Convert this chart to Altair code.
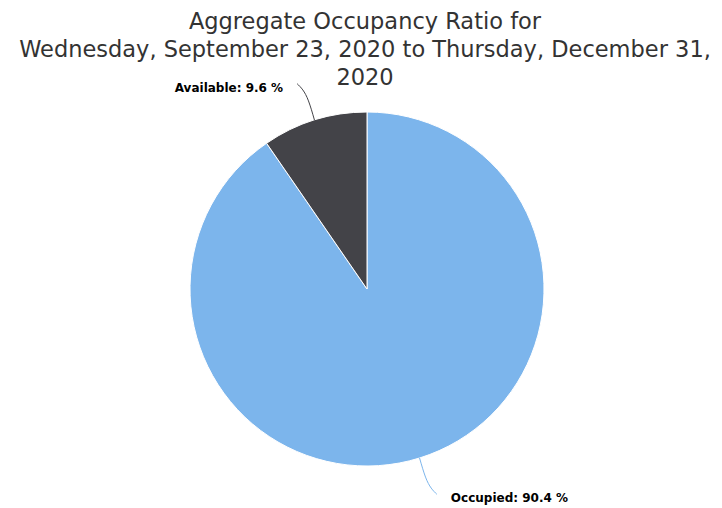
import altair as alt
import pandas as pd
import numpy as np

# ---- data ----
categories = ["Occupied", "Available"]
percent = [90.4, 9.6]
colors = ["#7cb5ec", "#434348"]
title_lines = [
    "Aggregate Occupancy Ratio for",
    "Wednesday, September 23, 2020 to Thursday, December 31,",
    "2020",
]

# ---- geometry (view pixels) ----
CX, CY, R = 359, 181, 177

df = pd.DataFrame({"category": categories, "value": percent, "order": list(range(len(categories)))})
df["label"] = [f"{c}: {v} %" for c, v in zip(categories, percent)]

frac = np.array(percent) / sum(percent)
mid = (np.cumsum(frac) - frac / 2) * 2 * np.pi
side = np.sign(np.sin(mid))

conn_rows = []
for i, c in enumerate(categories):
    s, co = np.sin(mid[i]), np.cos(mid[i])
    pts = [
        (CX + R * s, CY - R * co),
        (CX + (R + 20) * s, CY - (R + 20) * co),
        (CX + (R + 38) * s + side[i] * 6, CY - (R + 38) * co),
    ]
    for k, (px, py) in enumerate(pts):
        conn_rows.append({"category": c, "step": k, "px": px, "py": py})
conn = pd.DataFrame(conn_rows)

lab = pd.DataFrame({
    "category": categories,
    "label": df["label"],
    "px": [CX + (R + 38) * np.sin(m) + sd * 20 for m, sd in zip(mid, side)],
    "py": [CY - (R + 38) * np.cos(m) + 4 for m in mid],
    "side": side,
})

color_scale = alt.Scale(domain=categories, range=colors)

pie = alt.Chart(df).mark_arc(outerRadius=R, stroke="#ffffff", strokeWidth=1).encode(
    theta=alt.Theta("value:Q", stack=True),
    color=alt.Color("category:N", scale=color_scale, legend=None),
    order=alt.Order("order:Q"),
    x=alt.value(CX),
    y=alt.value(CY),
)

lines = alt.Chart(conn).mark_line(strokeWidth=1, interpolate="monotone").encode(
    x=alt.X("px:Q", scale=None, axis=None),
    y=alt.Y("py:Q", scale=None, axis=None),
    color=alt.Color("category:N", scale=color_scale, legend=None),
    detail="category:N",
    order="step:Q",
)

left_labels = alt.Chart(lab).transform_filter("datum.side < 0").mark_text(
    align="right", baseline="middle", font="DejaVu Sans", fontSize=12, fontWeight="bold", color="#000000"
).encode(
    x=alt.X("px:Q", scale=None, axis=None),
    y=alt.Y("py:Q", scale=None, axis=None),
    text="label:N",
)

right_labels = alt.Chart(lab).transform_filter("datum.side > 0").mark_text(
    align="left", baseline="middle", font="DejaVu Sans", fontSize=12, fontWeight="bold", color="#000000"
).encode(
    x=alt.X("px:Q", scale=None, axis=None),
    y=alt.Y("py:Q", scale=None, axis=None),
    text="label:N",
)

chart = alt.layer(pie, lines, left_labels, right_labels).properties(
    width=706,
    height=398,
    padding={"left": 0, "top": 100, "right": 0, "bottom": 0},
    autosize=alt.AutoSizeParams(type="none"),
    title=alt.Title(
        title_lines,
        font="DejaVu Sans",
        fontSize=22.5,
        fontWeight="normal",
        color="#333333",
        lineHeight=28,
        anchor="middle",
        offset=16,
        dy=24,
        dx=4,
    ),
).configure_view(stroke=None)

chart.save("out.html", embed_options={"renderer": "svg", "actions": False})
